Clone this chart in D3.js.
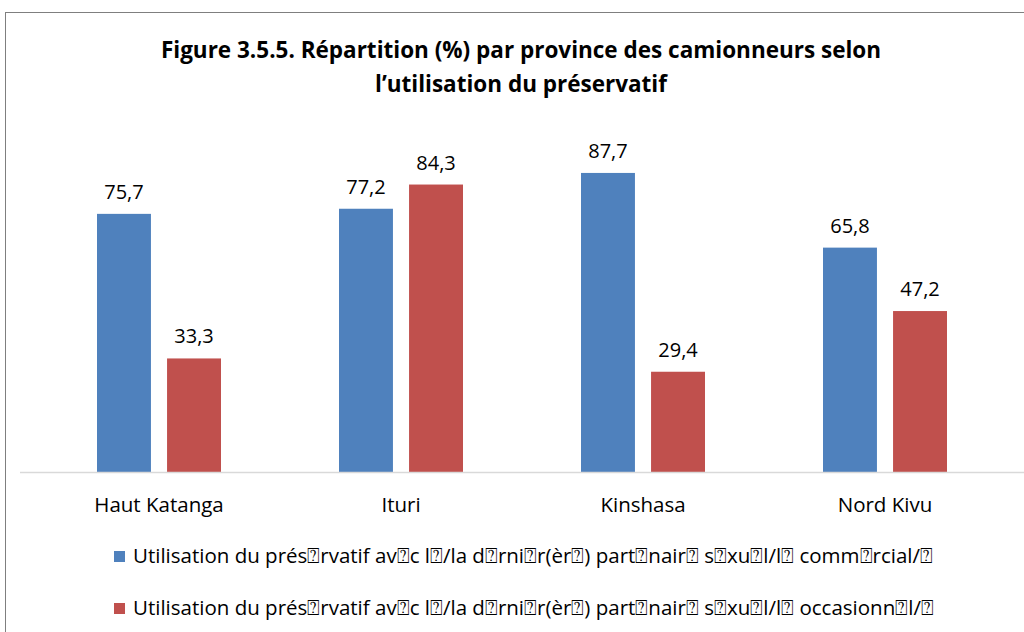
<!DOCTYPE html>
<html>
<head>
<meta charset="utf-8">
<script src="https://cdn.jsdelivr.net/npm/d3@7"></script>
<style>
  body { margin: 0; background: #fff; }
  svg { display: block; font-family: "Open Sans", Lato, sans-serif; }
</style>
</head>
<body>
<svg id="chart" width="1024" height="632"></svg>
<script>
const provinces = ["Haut Katanga", "Ituri", "Kinshasa", "Nord Kivu"];
const commercial = [75.7, 77.2, 87.7, 65.8];
const occasionnel = [33.3, 84.3, 29.4, 47.2];
const seriesNames = [
  "Utilisation du prés\u2370rvatif av\u2370c l\u2370/la d\u2370rni\u2370r(èr\u2370) part\u2370nair\u2370 s\u2370xu\u2370l/l\u2370 comm\u2370rcial/\u2370",
  "Utilisation du prés\u2370rvatif av\u2370c l\u2370/la d\u2370rni\u2370r(èr\u2370) part\u2370nair\u2370 s\u2370xu\u2370l/l\u2370 occasionn\u2370l/\u2370"
];
const colors = ["#4f81bd", "#c0504d"];
const titleLines = [
  "Figure 3.5.5. Répartition (%) par province des camionneurs selon",
  "l\u2019utilisation du préservatif"
];

const svg = d3.select("#chart");

// frame
svg.append("rect")
  .attr("x", 5.5).attr("y", 12.5)
  .attr("width", 1030).attr("height", 640)
  .attr("fill", "none").attr("stroke", "#7f7f7f").attr("stroke-width", 1);

// title
svg.append("g").selectAll("text")
  .data(titleLines)
  .join("text")
  .attr("x", 521)
  .attr("y", (d, i) => 58 + i * 34)
  .attr("text-anchor", "middle")
  .style("font-size", "22.5px")
  .style("font-weight", "bold")
  .text(d => d);

const baseY = 472;
const x = d3.scaleBand().domain(provinces).range([38, 1006]);
const y = d3.scaleLinear().domain([0, 100]).range([baseY, baseY - 341]);
const inner = d3.scaleBand().domain([0, 1]).range([-62, 62]).paddingInner(0.23);

const data = provinces.map((p, i) => ({ p, vals: [commercial[i], occasionnel[i]] }));

const groups = svg.append("g").selectAll("g")
  .data(data)
  .join("g")
  .attr("transform", d => `translate(${x(d.p) + x.bandwidth() / 2},0)`);

groups.selectAll("rect")
  .data(d => d.vals.map((v, k) => ({ v, k })))
  .join("rect")
  .attr("x", d => inner(d.k))
  .attr("y", d => y(d.v))
  .attr("width", inner.bandwidth())
  .attr("height", d => baseY - y(d.v))
  .attr("fill", d => colors[d.k]);

groups.selectAll("text.val")
  .data(d => d.vals.map((v, k) => ({ v, k })))
  .join("text")
  .attr("class", "val")
  .attr("x", d => inner(d.k) + inner.bandwidth() / 2)
  .attr("y", d => y(d.v) - 15)
  .attr("text-anchor", "middle")
  .style("font-size", "20px")
  .text(d => d.v.toFixed(1).replace(".", ","));

// axis line
svg.append("line")
  .attr("x1", 20).attr("x2", 1024)
  .attr("y1", baseY + 0.5).attr("y2", baseY + 0.5)
  .attr("stroke", "#d9d9d9").attr("stroke-width", 1.5);

const xAxis = svg.append("g")
  .attr("transform", `translate(0,${baseY})`)
  .call(d3.axisBottom(x).tickSize(0).tickPadding(25));
xAxis.select(".domain").remove();
xAxis.selectAll("text")
  .style("font-size", "20.5px")
  .style("font-family", "'Open Sans', sans-serif")
  .attr("fill", "#000");

// legend
const legend = svg.append("g").selectAll("g")
  .data(seriesNames)
  .join("g")
  .attr("transform", (d, i) => `translate(114,${551 + i * 52})`);
legend.append("rect")
  .attr("width", 11).attr("height", 11)
  .attr("fill", (d, i) => colors[i]);
legend.append("text")
  .attr("x", 19).attr("y", 12)
  .style("font-size", "20.5px")
  .text(d => d);
</script>
</body>
</html>
